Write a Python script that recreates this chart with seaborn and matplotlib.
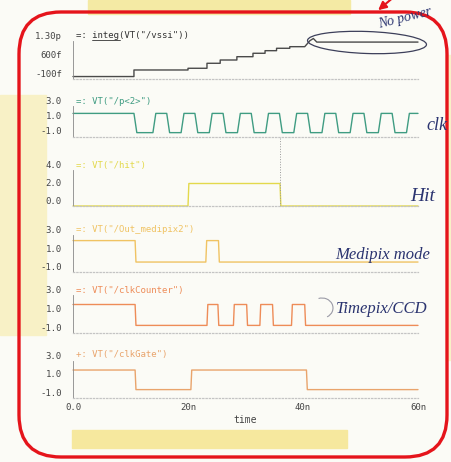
import matplotlib
matplotlib.use('Agg')
import matplotlib.pyplot as plt
import seaborn as sns
from matplotlib.patches import FancyBboxPatch, Rectangle, Ellipse, FancyArrowPatch, Arc
from matplotlib.lines import Line2D
from matplotlib.ticker import MultipleLocator

# ----------
# values (time in ns)
# ----------
vssi_t = [0, 10.6, 10.6, 20.0, 20.0, 23.3, 23.3, 25.6, 25.6, 28.5, 28.5, 31.3, 31.3,
          33.4, 33.4, 35.4, 35.4, 37.7, 37.7, 40.3, 41.2, 41.8, 42.4, 60]
vssi_f = [0, 0, 238, 238, 300, 300, 481, 481, 600, 600, 720, 720, 844,
          844, 938, 938, 1025, 1025, 1083, 1083, 1300, 1380, 1250, 1250]

clk_edges = [10.6, 13.9, 16.3, 18.8, 21.2, 23.7, 26.1, 28.6, 31.0, 33.5, 35.9,
             38.4, 40.8, 43.3, 45.7, 48.2, 50.6, 53.1, 55.5, 58.0]
clk_levels = [2.0, -0.5] * 10 + [2.0]

hit_edges = [20.0, 36.0]
hit_levels = [0.0, 2.5, 0.0]

medipix_edges = [10.8, 23.1, 25.3]
medipix_levels = [2.4, 0.1, 2.4, 0.1]

counter_edges = [10.8, 23.3, 25.2, 27.9, 30.2, 32.5, 34.7, 38.0, 40.3]
counter_levels = [2.0, -0.2] * 5

gate_edges = [10.8, 20.5, 40.6]
gate_levels = [2.0, -0.1, 2.0, -0.1]

volt_ticks = [-1, 1, 3]
volt_labels = ['-1.0', '1.0', '3.0']
hit_ticks = [0, 2, 4]
hit_labels = ['0.0', '2.0', '4.0']
vssi_ticks = [-100, 600, 1300]
vssi_labels = ['-100f', '600f', '1.30p']
time_ticks = [0, 20, 40, 60]
time_labels = ['0.0', '20n', '40n', '60n']


def wave(edges, levels, ramp):
    t, v = [0], [levels[0]]
    for i, e in enumerate(edges):
        t += [e, e + ramp]
        v += [levels[i], levels[i + 1]]
    t.append(60)
    v.append(levels[-1])
    return t, v


sns.set_style('white')
plt.rcParams['font.family'] = ['DejaVu Sans Mono', 'DejaVu Sans']

W, H = 452, 462
fig = plt.figure(figsize=(4.52, 4.62), dpi=100, facecolor='#fbfbf6')


def px_rect(x0, y0, x1, y1, **kw):
    # pixel box (top-left origin) -> patch in inches
    return Rectangle((x0 / 100, (H - y1) / 100), (x1 - x0) / 100, (y1 - y0) / 100,
                     transform=fig.dpi_scale_trans, **kw)


# paper / sticky notes
fig.add_artist(px_rect(0, 95, 46, 335, color='#f8f1c6', zorder=0))
fig.add_artist(px_rect(88, 0, 350, 14, color='#f4eaa4', zorder=0))
fig.add_artist(px_rect(72, 430, 347, 448, color='#f6e89e', zorder=0))
fig.add_artist(px_rect(446, 55, 452, 360, color='#f8f1c6', zorder=0))

panels = [
    # top, bottom, t, v, colour, ylim, ticks, labels, title, title y
    (40.7, 79.3, vssi_t, vssi_f, '#4a4a4a', (-100, 1300), vssi_ticks, vssi_labels,
     '=: integ(VT("/vssi"))', 35),
    (105.7, 136.5) + wave(clk_edges, clk_levels, 0.5) + ('#3f9c82', (-1, 3), volt_ticks, volt_labels,
     '=: VT("/p<2>")', 101),
    (170, 206) + wave(hit_edges, hit_levels, 0.15) + ('#e3d94c', (0, 4), hit_ticks, hit_labels,
     '=: VT("/hit")', 165),
    (235, 272.3) + wave(medipix_edges, medipix_levels, 0.15) + ('#f0c363', (-1, 3), volt_ticks, volt_labels,
     '=: VT("/Out_medipix2")', 230),
    (295, 333) + wave(counter_edges, counter_levels, 0.15) + ('#ee8c58', (-1, 3), volt_ticks, volt_labels,
     '=: VT("/clkCounter")', 290),
    (360.7, 398) + wave(gate_edges, gate_levels, 0.15) + ('#e9a46c', (-1, 3), volt_ticks, volt_labels,
     '+: VT("/clkGate")', 355),
]

axes = []
for i, (top, bot, t, v, col, ylim, ticks, labels, title, ty) in enumerate(panels):
    ax = fig.add_axes([73 / W, 1 - bot / H, 345 / W, (bot - top) / H])
    ax.set_facecolor('none')
    sns.lineplot(x=t, y=v, ax=ax, color=col, lw=1.0, estimator=None, sort=False)
    for ln in ax.get_lines():
        ln.set_clip_on(False)
    ax.set_xlim(0, 60)
    ax.set_ylim(*ylim)
    ax.set_yticks(ticks)
    ax.set_yticklabels(labels, fontsize=6.5, color='#444', va='bottom')
    ax.tick_params(axis='y', direction='in', length=3, pad=8, width=0.6, color='#888')
    ax.set_xticks(time_ticks)
    ax.xaxis.set_minor_locator(MultipleLocator(2.5))
    ax.tick_params(axis='x', which='both', direction='in', length=2, width=0.6, color='#bbb')
    for s in ['top', 'right']:
        ax.spines[s].set_visible(False)
    ax.spines['left'].set_color('#888')
    ax.spines['left'].set_linewidth(0.6)
    ax.spines['bottom'].set_color('#c4c4c4')
    ax.spines['bottom'].set_linewidth(0.9)
    ax.spines['bottom'].set_linestyle(':')
    if i < 5:
        ax.tick_params(labelbottom=False)
    fig.text(76 / W, 1 - ty / H, title, color=col if i else '#333', fontsize=6.5, va='center')
    axes.append(ax)

axes[-1].set_xticklabels(time_labels, fontsize=6.5, color='#444')
axes[-1].set_xlabel('time', fontsize=7, color='#444', labelpad=2)

# underline under "integ"
fig.add_artist(Line2D([0.923, 1.195], [(H - 40) / 100] * 2, lw=0.6, color='#333',
                      transform=fig.dpi_scale_trans))

# cursor line through the hit pulse
axes[2].axvline(36, ymin=0, ymax=1.9, clip_on=False, ls=':', lw=0.7, color='#999')

# hand annotations
ink = '#2b3470'
hand = dict(family='Liberation Serif', style='italic', color=ink)
fig.text(377 / W, 1 - 18 / H, 'No power', fontsize=10, rotation=14, va='center', **hand)
fig.text(437 / W, 1 - 126 / H, 'clk', fontsize=13, ha='center', va='center', **hand)
fig.text(423 / W, 1 - 196 / H, 'Hit', fontsize=14, ha='center', va='center', **hand)
fig.text(383 / W, 1 - 255 / H, 'Medipix mode', fontsize=12, ha='center', va='center', **hand)
fig.text(382 / W, 1 - 309 / H, 'Timepix/CCD', fontsize=12, ha='center', va='center', **hand)
fig.add_artist(Ellipse((3.67, (H - 42.5) / 100), 1.19, 0.22, angle=-2, fill=False,
                       lw=0.9, ec='#3c3f5a', transform=fig.dpi_scale_trans))
fig.add_artist(Arc((3.22, (H - 308) / 100), 0.22, 0.2, theta1=-60, theta2=110,
                   lw=0.8, color='#9a9aa6', transform=fig.dpi_scale_trans))

# red frame and arrow
fig.add_artist(FancyBboxPatch((0.19, 0.05), 4.28, 4.45, boxstyle='round,pad=0,rounding_size=0.42',
                              fill=False, ec='#e5141b', lw=2.4, transform=fig.dpi_scale_trans))
fig.add_artist(FancyArrowPatch((3.95, 4.66), (3.76, 4.50), arrowstyle='-|>', mutation_scale=12,
                               color='#e5141b', lw=1.5, transform=fig.dpi_scale_trans))

fig.savefig('out.png', dpi=100, facecolor=fig.get_facecolor())
